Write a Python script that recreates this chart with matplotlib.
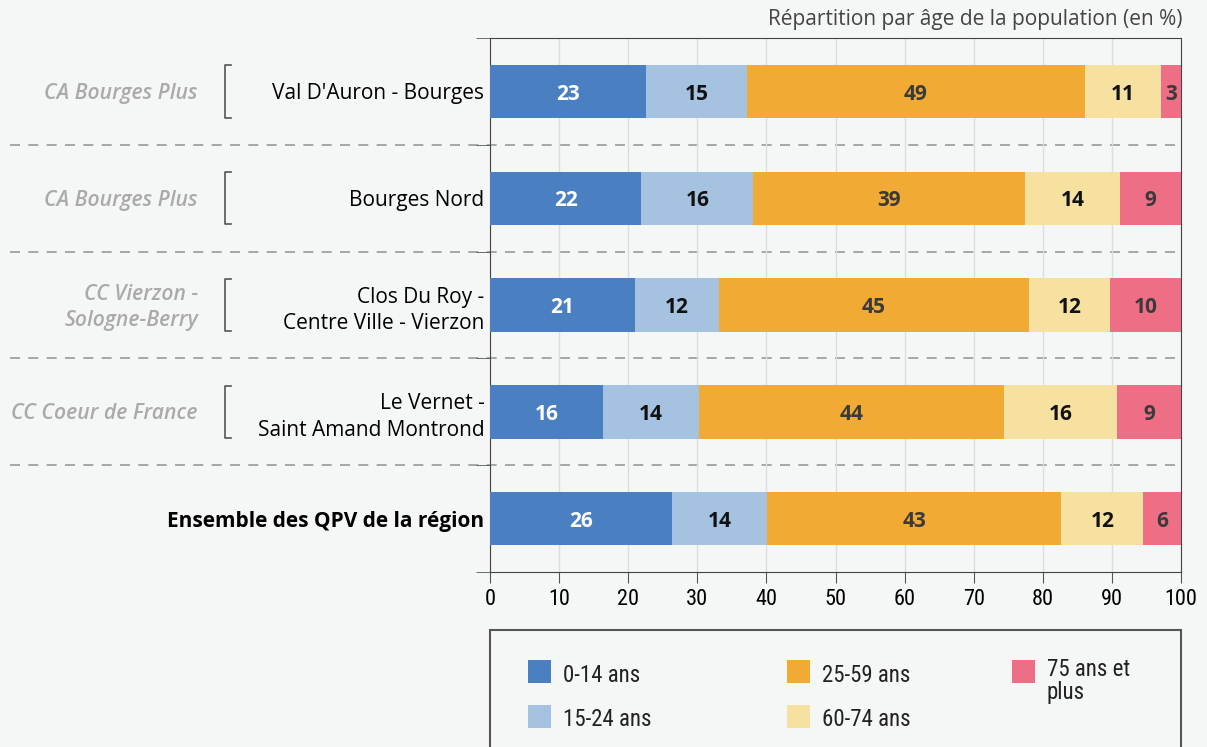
#Répartition par âge de la population dans les QPV
import matplotlib.pyplot as plt
from matplotlib.patches import Rectangle
from matplotlib.lines import Line2D
import matplotlib.transforms as mtrans

plt.rcParams['font.family'] = ['Open Sans', 'DejaVu Sans']

quartiers = ["Val D'Auron - Bourges", 'Bourges Nord', 'Clos Du Roy -\nCentre Ville - Vierzon',
             'Le Vernet -\nSaint Amand Montrond', 'Ensemble des QPV de la région']
groupes = ['CA Bourges Plus', 'CA Bourges Plus', 'CC Vierzon -\nSologne-Berry', 'CC Coeur de France', '']
tranches = ['0-14 ans', '15-24 ans', '25-59 ans', '60-74 ans', '75 ans et\nplus']
v_0_14 = [22.6, 21.9, 21.0, 16.4, 26.3]
v_15_24 = [14.6, 16.2, 12.1, 13.8, 13.8]
v_25_59 = [48.9, 39.3, 44.9, 44.2, 42.6]
v_60_74 = [11.0, 13.8, 11.7, 16.3, 11.8]
v_75 = [2.9, 8.8, 10.3, 9.3, 5.6]

couleurs = ['#4a80c1', '#a6c2e1', '#f1aa33', '#f6e1a1', '#ee6e86']
couleurs_txt = ['white', '#111111', '#3a3a3a', '#111111', '#3a3a3a']
narrow = ['Liberation Sans Narrow', 'Roboto Condensed', 'Liberation Sans', 'DejaVu Sans']
fond = '#f5f6f6'

fig = plt.figure(figsize=(12.07, 7.47), dpi=100, facecolor=fond)
ax = fig.add_axes([490/1207, 1-572/747, 691/1207, 534/747])
ax.set_facecolor(fond)

series = [v_0_14, v_15_24, v_25_59, v_60_74, v_75]
y = list(range(len(quartiers)))
gauche = [0]*len(quartiers)
for k in range(len(series)):
    ax.barh(y, series[k], left=gauche, height=0.5, color=couleurs[k], zorder=3)
    for i in range(len(y)):
        ax.text(gauche[i]+series[k][i]/2, y[i]+0.025, '{:.0f}'.format(series[k][i]), ha='center', va='center',
                fontsize=15, fontweight='bold', color=couleurs_txt[k], zorder=4)
        gauche[i] += series[k][i]

ax.set_xlim(0, 100)
ax.set_ylim(4.5, -0.5)
ax.set_xticks(range(0, 101, 10))
ax.set_xticklabels([str(t) for t in range(0, 101, 10)], family=narrow, fontsize=16)
ax.tick_params(axis='x', length=8, color='#555555', pad=4)
ax.grid(axis='x', color='#dddddd', lw=1, zorder=0)
ax.set_yticks(y)
ax.set_yticklabels(quartiers, fontsize=15, ha='right', multialignment='right', linespacing=1.35)
ax.get_yticklabels()[-1].set_fontweight('bold')
ax.set_yticks([i-0.5 for i in range(6)], minor=True)
ax.tick_params(axis='y', which='major', length=0, pad=4)
ax.tick_params(axis='y', which='minor', length=10, color='#555555')
for s in ['top', 'right', 'left', 'bottom']:
    ax.spines[s].set_color('#444444')

# lignes pointillées entre les quartiers
for i in range(4):
    ax.axhline(i+0.5, xmin=-0.695, xmax=1, color='#999999', lw=1.2, ls=(0, (6, 5)), clip_on=False, zorder=1)

# intercommunalités + crochets
trans = mtrans.blended_transform_factory(fig.transFigure, ax.transData)
for i in range(len(groupes)):
    if groupes[i] == '':
        continue
    fig.text(198/1207, y[i]+0.02, groupes[i], transform=trans, ha='right', va='center', style='italic',
             fontsize=15.2, fontweight='semibold', color='#aaaaaa', multialignment='right', linespacing=1.3)
    xb = 225/1207
    fig.add_artist(Line2D([xb+0.005, xb, xb, xb+0.005], [i-0.245, i-0.245, i+0.245, i+0.245],
                          transform=trans, color='#555555', lw=1.2))

fig.text(1183/1207, 1-20/747, 'Répartition par âge de la population (en %)', ha='right', va='center',
         fontsize=15, color='#444444')

# légende
fig.add_artist(Rectangle((490/1207, -0.05), 691/1207, 0.05+1-630/747, transform=fig.transFigure,
                         facecolor='none', edgecolor='#555555', lw=1.5))
pos = [(528, 672), (528, 717), (787, 672), (787, 717), (1012, 672)]
for k in range(len(tranches)):
    px, py = pos[k]
    fig.add_artist(Rectangle((px/1207, 1-(py+11)/747), 23/1207, 23/747, transform=fig.transFigure,
                             facecolor=couleurs[k], edgecolor='none'))
    ty = py+3 if k < 4 else py+9
    fig.text((px+35)/1207, 1-ty/747, tranches[k], ha='left', va='center', family=narrow,
             fontsize=16.5, color='#222222', linespacing=0.95)

plt.savefig('out.png', dpi=100, facecolor=fond)
